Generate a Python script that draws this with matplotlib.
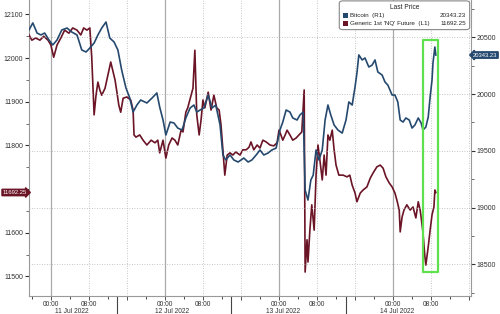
import pandas as pd
import matplotlib.pyplot as plt
import matplotlib.dates as mdates
from matplotlib.patches import Rectangle, FancyBboxPatch

plt.rcParams["font.family"] = ["Liberation Sans", "DejaVu Sans"]

# hours after 11 Jul 2022 00:00
btc_hours = [-4.6, -3.8, -2.9, -2.1, -1.3, -0.4, 0.4, 1.3, 2.3, 3.4, 4.4, 5.5, 6.5, 7.4, 8.2, 9.1,
             9.9, 10.7, 11.6, 12.4, 13.3, 14.1, 14.9, 15.8, 16.6, 17.3, 18.1, 18.9, 20.2, 21.3, 22.3,
             22.9, 23.6, 24.2, 25.1, 25.9, 26.7, 27.6, 28.4, 29.3, 30.1, 30.7, 31.4, 32.2, 33.1,
             33.9, 34.7, 35.6, 36.2, 36.8, 37.7, 38.5, 39.4, 40.6, 41.5, 42.3, 43.2, 44.0, 44.8,
             45.7, 46.5, 47.4, 48.2, 48.8, 49.5, 50.3, 50.9, 51.8, 52.4, 53.1, 53.5, 54.1, 54.7,
             55.2, 55.8, 56.4, 57.1, 57.7, 58.3, 58.9, 59.6, 60.4, 61.3, 62.1, 62.7, 63.4, 64.0,
             64.4, 64.8, 65.5, 66.1, 66.9, 67.6, 68.2, 68.8, 69.7, 70.3, 70.9, 71.8, 72.4, 73.0,
             73.5, 74.1, 74.7, 75.4, 76.0, 76.6, 77.3, 77.9, 78.3, 78.9, 79.4, 79.8, 80.2, 80.4,
             80.8, 81.0]
btc_price = [20564, 20626, 20537, 20520, 20537, 20476, 20432, 20476, 20564, 20581, 20546, 20520,
             20388, 20370, 20405, 20449, 20520, 20581, 20634, 20493, 20458, 20388, 20211, 20053,
             19965, 19841, 19903, 19947, 19921, 19965, 20009, 19885, 19771, 19639, 19753, 19745,
             19700, 19683, 19789, 19877, 19903, 19841, 19859, 19877, 19991, 19877, 19903, 19727,
             19463, 19419, 19463, 19419, 19401, 19436, 19401, 19419, 19463, 19507, 19463, 19480,
             19507, 19524, 19683, 19753, 19859, 19841, 19789, 19771, 19815, 19841, 19154, 19066,
             19242, 19286, 19507, 19419, 19507, 19771, 19903, 19815, 19727, 19683, 19656, 19771,
             19930, 19903, 20062, 20185, 20344, 20300, 20317, 20238, 20255, 20300, 20194, 20167,
             20106, 20079, 19991, 19991, 19930, 19771, 19753, 19789, 19771, 19700, 19727, 19789,
             19745, 19683, 19709, 19797, 19974, 20123, 20273, 20414, 20343.23]

nq_hours = [-4.6, -4.0, -3.2, -2.3, -1.5, -0.6, 0.0, 0.6, 1.3, 2.1, 2.9, 3.8, 4.6, 5.5, 6.3, 6.9,
            7.6, 8.2, 8.6, 9.1, 9.5, 9.9, 10.3, 10.7, 11.4, 12.0, 12.6, 13.1, 13.5, 13.9, 14.3,
            14.7, 15.2, 16.0, 16.8, 17.3, 17.5, 17.9, 18.7, 19.4, 20.2, 21.1, 21.9, 22.5, 22.9,
            23.6, 24.2, 24.8, 25.5, 26.1, 26.7, 27.4, 27.8, 28.4, 28.8, 29.5, 29.9, 30.3, 30.7,
            31.2, 31.6, 32.0, 32.4, 33.1, 33.7, 34.3, 34.9, 35.4, 35.8, 36.2, 36.6, 37.1, 37.7,
            38.3, 38.9, 39.8, 40.4, 41.1, 41.7, 42.1, 42.7, 43.4, 44.0, 44.6, 45.3, 46.1, 46.9,
            47.6, 48.0, 48.4, 48.8, 49.3, 49.7, 50.3, 50.9, 51.6, 52.2, 52.8, 53.3, 53.5, 53.9,
            54.1, 54.5, 54.9, 55.4, 55.8, 56.2, 56.6, 57.1, 57.5, 57.9, 58.3, 58.7, 59.2, 59.6,
            60.0, 60.6, 61.5, 62.3, 62.9, 63.4, 64.0, 64.4, 65.1, 65.7, 66.5, 67.2, 67.8, 68.6,
            69.3, 69.9, 70.5, 71.2, 71.8, 72.4, 72.8, 73.3, 73.5, 73.9, 74.3, 74.9, 75.6, 76.2,
            76.8, 77.3, 77.7, 77.9, 78.3, 78.7, 78.9, 79.4, 79.8, 80.2, 80.6, 80.8, 81.0]
nq_price = [12053, 12041, 12046, 12041, 12050, 12041, 12030, 12002, 12030, 12046, 12064, 12057,
            12069, 12064, 12053, 12069, 12064, 12069, 12002, 11870, 11915, 11945, 11927, 11915,
            11931, 11961, 11991, 11968, 11950, 11922, 11892, 11876, 11908, 11911, 11904, 11881,
            11824, 11819, 11824, 11812, 11801, 11812, 11806, 11812, 11783, 11812, 11771, 11801,
            11817, 11812, 11801, 11835, 11831, 11876, 11886, 11915, 11931, 12018, 11870, 11824,
            11858, 11904, 11886, 11922, 11881, 11915, 11886, 11881, 11847, 11790, 11732, 11778,
            11783, 11778, 11785, 11778, 11790, 11790, 11796, 11808, 11790, 11801, 11794, 11812,
            11808, 11801, 11799, 11806, 11835, 11824, 11812, 11824, 11835, 11824, 11812, 11817,
            11824, 11831, 11927, 11510, 11584, 11533, 11606, 11664, 11606, 11732, 11801, 11767,
            11721, 11778, 11732, 11824, 11812, 11835, 11790, 11755, 11732, 11732, 11728, 11732,
            11709, 11691, 11671, 11691, 11698, 11705, 11725, 11737, 11751, 11755, 11748, 11728,
            11714, 11705, 11691, 11675, 11652, 11602, 11636, 11652, 11664, 11652, 11659, 11634,
            11671, 11652, 11636, 11600, 11545, 11526, 11568, 11606, 11641, 11659, 11698, 11692.25]

day_labels = ["11 Jul 2022", "12 Jul 2022", "13 Jul 2022", "14 Jul 2022"]
left_ticks = [11500, 11600, 11700, 11800, 11900, 12000, 12100]
right_ticks = [18500, 19000, 19500, 20000, 20500]

btc_last = "20343.23"
nq_last = "11692.25"

BLUE = "#25496e"
RED = "#6b1426"
GRID = "#b4b4b4"
TXT = "#333333"

start = pd.Timestamp("2022-07-11")
t_btc = start + pd.to_timedelta(btc_hours, unit="h")
t_nq = start + pd.to_timedelta(nq_hours, unit="h")

fig = plt.figure(figsize=(5.0, 3.14), dpi=100)
ax = fig.add_axes([0.058, 0.057, 0.884, 0.943])
ax2 = ax.twinx()

ax.plot(t_nq, nq_price, color=RED, lw=1.2, zorder=3)
ax2.plot(t_btc, btc_price, color=BLUE, lw=1.2, zorder=3)

x0 = start - pd.Timedelta(hours=4.6)
x1 = start + pd.Timedelta(hours=88.4)
ax.set_xlim(x0, x1)
ax.set_ylim(11455, 12133)
ax2.set_ylim(18220, 20828)

# ticks (11700 label sits under the last-price tag)
ax.set_yticks(left_ticks, ["" if t == 11700 else str(t) for t in left_ticks])
ax.set_yticks(range(11500, 12150, 50), minor=True)
ax2.set_yticks(right_ticks)
ax2.set_yticks(range(18250, 20800, 250), minor=True)
for a in (ax, ax2):
    a.tick_params(axis="y", labelsize=5, length=3, width=0.8, colors=TXT, pad=1)
    a.tick_params(axis="y", which="minor", length=2, width=0.6, colors="#555555")
    for s in a.spines.values():
        s.set_visible(False)
ax.spines["left"].set_visible(True)
ax.spines["bottom"].set_visible(True)
ax2.spines["right"].set_visible(True)
for s in ("left", "bottom"):
    ax.spines[s].set_color("#999999")
ax2.spines["right"].set_color("#999999")

ax.xaxis.set_major_locator(mdates.HourLocator(byhour=[0, 8, 16]))
ax.xaxis.set_minor_locator(mdates.HourLocator(byhour=range(0, 24, 4)))
ax.xaxis.set_major_formatter(plt.FuncFormatter(
    lambda v, p: "" if mdates.num2date(v).hour == 16 else mdates.num2date(v).strftime("%H:%M")))
ax.tick_params(axis="x", labelsize=4.8, length=3, width=0.6, colors=TXT, pad=0.5)
ax.tick_params(axis="x", which="minor", length=2, width=0.5)

# grid
for d in range(4):
    day = start + pd.Timedelta(days=d)
    ax.axvline(day, color="#aaaaaa", lw=0.9, zorder=1)
    for h in (8, 16):
        ax.axvline(day + pd.Timedelta(hours=h), color=GRID, lw=0.6, ls=(0, (1, 2)), zorder=1)
    if d < 3:
        ax.axvline(day + pd.Timedelta(hours=14), ymin=-0.06, ymax=0, color="#444444", lw=0.8,
                   clip_on=False)
for v in right_ticks:
    ax2.axhline(v, color=GRID, lw=0.6, ls=(0, (1, 2)), zorder=1)

# date labels under the hours
date_pos = [4.4, 25.5, 48.8, 72.8]
for lab, h in zip(day_labels, date_pos):
    ax.text(start + pd.Timedelta(hours=h), -0.051, lab, transform=ax.get_xaxis_transform(),
            ha="center", va="center", fontsize=4.8, color=TXT)

# highlight box
ax2.add_patch(Rectangle((start + pd.Timedelta(hours=78.3), 18432),
                        pd.Timedelta(hours=3.2), 20476 - 18432,
                        fill=False, ec="#5ee04f", lw=1.6, zorder=4, joinstyle="round"))

# last price tags
ax2.annotate(btc_last, xy=(1.0, 20343.23), xycoords=ax2.get_yaxis_transform(),
             xytext=(1.5, 0), textcoords="offset points", ha="left", va="center",
             fontsize=4.2, color="white", annotation_clip=False,
             bbox=dict(boxstyle="larrow,pad=0.12", fc=BLUE, ec=BLUE))
ax.annotate(nq_last, xy=(0, 11692.25), xycoords=ax.get_yaxis_transform(),
            xytext=(-1.5, 0), textcoords="offset points", ha="right", va="center",
            fontsize=4.2, color="white", annotation_clip=False, zorder=5,
            bbox=dict(boxstyle="rarrow,pad=0.12", fc=RED, ec=RED))

# legend box
ax2.add_patch(FancyBboxPatch((0.702, 0.9), 0.295, 0.097, transform=ax2.transAxes,
                             boxstyle="round,pad=0,rounding_size=0.008",
                             fc="white", ec="#888888", lw=0.8, zorder=6, clip_on=False))
ax2.text(0.849, 0.975, "Last Price", transform=ax2.transAxes, ha="center", va="center",
         fontsize=4.8, color="#222222", zorder=7)
rows = [("Bitcoin  (R1)", btc_last, BLUE), ("Generic 1st 'NQ' Future  (L1)", nq_last, RED)]
for i, (name, val, c) in enumerate(rows):
    yy = 0.948 - i * 0.027
    ax2.add_patch(Rectangle((0.710, yy - 0.009), 0.011, 0.018, transform=ax2.transAxes,
                            fc=c, ec="none", zorder=7))
    ax2.text(0.727, yy, name, transform=ax2.transAxes, ha="left", va="center",
             fontsize=4.5, color="#222222", zorder=7)
    ax2.text(0.988, yy, val, transform=ax2.transAxes, ha="right", va="center",
             fontsize=4.5, color="#222222", zorder=7)

fig.savefig("out.png", dpi=100)
